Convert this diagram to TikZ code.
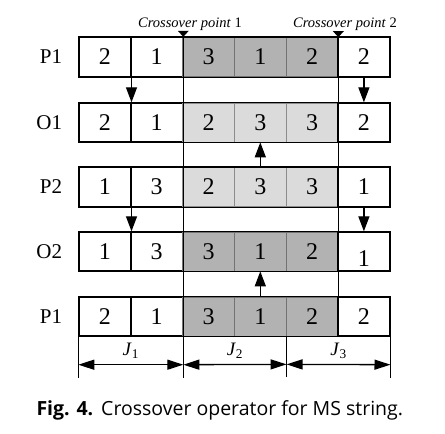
\documentclass[tikz,border=0pt]{standalone}
\usepackage{fontspec}
\setmainfont{Liberation Serif}
\newfontfamily\capfont{Open Sans}
\usetikzlibrary{positioning,calc,arrows.meta}
\colorlet{darkcell}{black!30}
\colorlet{lightcell}{black!14}

\begin{document}
\begin{tikzpicture}[x=1pt, y=-1pt,
  cell/.style={rectangle, draw, line width=1.4pt, fill=#1, minimum width=51.8pt,
               minimum height=39pt, inner sep=0pt, font=\fontsize{24}{24}\selectfont},
  cell/.default=white,
  wc/.style={cell},
  dc/.style={cell=darkcell, draw=black!55, line width=0.7pt},
  lc/.style={cell=lightcell, draw=black!45, line width=0.7pt},
  lbl/.style={font=\fontsize{21}{21}\selectfont, inner sep=0pt},
  arr/.style={-{Triangle[length=15pt, width=11pt]}, line width=1.3pt},
  dim/.style={{Triangle[length=16pt, width=10pt]}-{Triangle[length=16pt, width=10pt]}, line width=1.3pt},
  sep/.style={line width=1.4pt},
  jlab/.style={midway, above=2pt, font=\fontsize{19}{19}\selectfont}
]
  \useasboundingbox (0,0) rectangle (445,434);

  % Parent and offspring strings
  \foreach \v/\f [count=\i] in {2/wc, 1/wc, 3/dc, 1/dc, 2/dc, 2/wc}
    \node[\f] (pa\i) at ({53.1+51.8*\i}, 57) {\v};
  \foreach \v/\f [count=\i] in {2/wc, 1/wc, 2/lc, 3/lc, 3/lc, 2/wc}
    \node[\f] (oa\i) at ({53.1+51.8*\i}, 122.5) {\v};
  \foreach \v/\f [count=\i] in {1/wc, 3/wc, 2/lc, 3/lc, 3/lc, 1/wc}
    \node[\f] (pb\i) at ({53.1+51.8*\i}, 187) {\v};
  \foreach \v/\f [count=\i] in {1/wc, 3/wc, 3/dc, 1/dc, 2/dc, {\raisebox{-7pt}[\height][0pt]{1}}/wc}
    \node[\f] (ob\i) at ({53.1+51.8*\i}, 251.5) {\v};
  \foreach \v/\f [count=\i] in {2/wc, 1/wc, 3/dc, 1/dc, 2/dc, 2/wc}
    \node[\f] (pc\i) at ({53.1+51.8*\i}, 316.5) {\v};
  \foreach \r in {pa, oa, pb, ob, pc}
    \draw[sep] (\r1.north west) rectangle (\r6.south east);

  % Row labels
  \node[lbl, left=16pt of pa1] (lpa) {P1};
  \node[lbl, left=16pt of oa1] (loa) {O1};
  \node[lbl, left=16pt of pb1] (lpb) {P2};
  \node[lbl, left=16pt of ob1] (lob) {O2};
  \node[lbl, left=16pt of pc1] (lpc) {P1};

  % Crossover points
  \coordinate (cp1) at (pa2.north east);
  \coordinate (cp2) at (pa5.north east);
  \fill (cp1) -- ++(-5.5,-6) -- ++(11,0) -- cycle;
  \fill (cp2) -- ++(-5.5,-6) -- ++(11,0) -- cycle;
  \node[font=\fontsize{14.5}{14.5}\selectfont] (lcp1) at (190,24) {\textit{Crossover point}~1};
  \node[font=\fontsize{14.5}{14.5}\selectfont] (lcp2) at (345,24) {\textit{Crossover point}~2};

  % Dimension lines
  \coordinate (d1) at ($(pc1.south west)+(0,28)$);
  \coordinate (d2) at ($(pc2.south east)+(0,28)$);
  \coordinate (d3) at ($(pc4.south east)+(0,28)$);
  \coordinate (d4) at ($(pc6.south east)+(0,28)$);
  \coordinate (e1) at ($(d1)+(0,13)$);
  \coordinate (e2) at ($(d2)+(0,13)$);
  \coordinate (e3) at ($(d3)+(0,13)$);
  \coordinate (e4) at ($(d4)+(0,13)$);

  \draw[sep] (cp1) -- (e2);
  \draw[sep] (cp2) -- (pc5.south east);
  \draw[sep] (pc1.south west) -- (e1);
  \draw[sep] (pc4.south east) -- (e3);
  \draw[sep] (pc6.south east) -- (e4);

  \draw[dim] (d1) -- (d2) node[jlab] (j1) {\textit{J}\textsubscript{1}};
  \draw[dim] (d2) -- (d3) node[jlab] (j2) {\textit{J}\textsubscript{2}};
  \draw[dim] (d3) -- (d4) node[jlab] (j3) {\textit{J}\textsubscript{3}};

  % Gene transfer
  \draw[arr] (pa1.south east) -- (oa1.north east);
  \draw[arr] (pa6.south) -- (oa6.north);
  \draw[arr] (pb4.north) -- (oa4.south);
  \draw[arr] (pb1.south east) -- (ob1.north east);
  \draw[arr] (pb6.south) -- (ob6.north);
  \draw[arr] (pc4.north) -- (ob4.south);

  % Caption
  \node[anchor=west, font=\capfont\fontsize{19.5}{19.5}\selectfont] (cap) at (33,410)
    {\textbf{Fig. 4.}\hspace{8pt}Crossover operator for MS string.};
\end{tikzpicture}
\end{document}
